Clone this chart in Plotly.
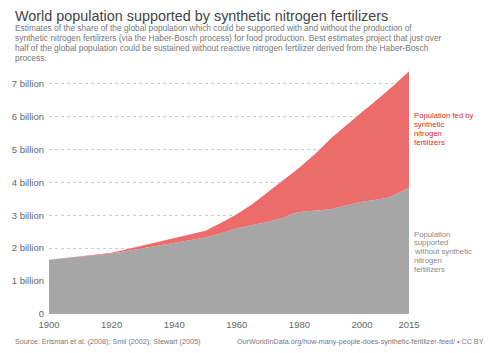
import plotly.graph_objects as go

years = [1900, 1910, 1920, 1930, 1940, 1950, 1955, 1960, 1965, 1970, 1975, 1978, 1980,
         1985, 1990, 1995, 2000, 2005, 2008, 2010, 2015]
total_pop = [1.65, 1.75, 1.86, 2.08, 2.30, 2.53, 2.77, 3.03, 3.34, 3.70, 4.08, 4.30, 4.45,
             4.86, 5.33, 5.74, 6.13, 6.52, 6.75, 6.93, 7.37]
without_synth = [1.65, 1.74, 1.84, 2.00, 2.15, 2.32, 2.45, 2.60, 2.70, 2.80, 2.93, 3.05, 3.10,
                 3.13, 3.18, 3.30, 3.41, 3.48, 3.53, 3.60, 3.84]
ytick_vals = [0, 1, 2, 3, 4, 5, 6, 7]
ytick_text = ["0", "1 billion", "2 billion", "3 billion", "4 billion", "5 billion", "6 billion", "7 billion"]
xtick_vals = [1900, 1920, 1940, 1960, 1980, 2000, 2015]

title = "World population supported by synthetic nitrogen fertilizers"
subtitle_lines = [
    "Estimates of the share of the global population which could be supported with and without the production of",
    "synthetic nitrogen fertilizers (via the Haber-Bosch process) for food production. Best estimates project that just over",
    "half of the global population could be sustained without reactive nitrogen fertilizer derived from the Haber-Bosch",
    "process.",
]
red_label = ["Population fed by", "synthetic", "nitrogen", "fertilizers"]
gray_label = ["Population", "supported", "without synthetic", "nitrogen", "fertilizers"]
source_text = "Source: Erisman et al. (2008); Smil (2002); Stewart (2005)"
url_text = "OurWorldInData.org/how-many-people-does-synthetic-fertilizer-feed/ • CC BY"

FONT = "Liberation Sans, Arial, sans-serif"
GRAY = "#a5a6a5"
RED = "#ec6b6b"

W, H = 500, 353
L, R, T, B = 44, 91, 67, 39
PW, PH = W - L - R, H - T - B

def px(x):
    return (x - L) / PW

def py(y):
    return (H - B - y) / PH

fig = go.Figure()
fig.add_trace(go.Scatter(x=years, y=without_synth, mode="lines", line=dict(width=0, color=GRAY),
                         fill="tozeroy", fillcolor=GRAY, hoverinfo="skip"))
fig.add_trace(go.Scatter(x=years, y=total_pop, mode="lines", line=dict(width=0, color=RED),
                         fill="tonexty", fillcolor=RED, hoverinfo="skip"))

fig.update_layout(
    width=W, height=H,
    margin=dict(l=L, r=R, t=T, b=B),
    paper_bgcolor="white", plot_bgcolor="white",
    showlegend=False,
    font=dict(family=FONT, color="#666"),
    xaxis=dict(range=[1900, 2015], tickvals=xtick_vals, showgrid=False, zeroline=False,
               showline=False, ticks="", ticklabelstandoff=3,
               tickfont=dict(size=9.5, color="#666")),
    yaxis=dict(range=[0, 7.5], tickvals=ytick_vals, ticktext=ytick_text, showgrid=True,
               gridcolor="rgba(110,110,110,0.35)", griddash="dot", gridwidth=1, zeroline=False,
               ticks="", ticklabelstandoff=4, tickfont=dict(size=9.5, color="#666"),
               layer="above traces"),
)

def text_at(t, x, y, size, color, xanchor="left"):
    fig.add_annotation(text=t, xref="paper", yref="paper", x=px(x), y=py(y),
                       xanchor=xanchor, yanchor="middle", showarrow=False, align="left",
                       font=dict(size=size, color=color, family=FONT))

text_at(title, 8, 15.7, 14.4, "#444")
for i, line in enumerate(subtitle_lines):
    text_at(line, 8, 27.7 + 10 * i, 8.4, "#777")
for i, line in enumerate(red_label):
    text_at(line, 412, 115.7 + 8.9 * i, 7.7, "#d42b2b")
for i, line in enumerate(gray_label):
    text_at(line, 412, 234 + 8.8 * i, 7.7, "#888")
text_at(source_text, 8, 341, 7.2, "#777")
text_at(url_text, 487, 341, 7.2, "#777", xanchor="right")

fig.write_html("out.html")
